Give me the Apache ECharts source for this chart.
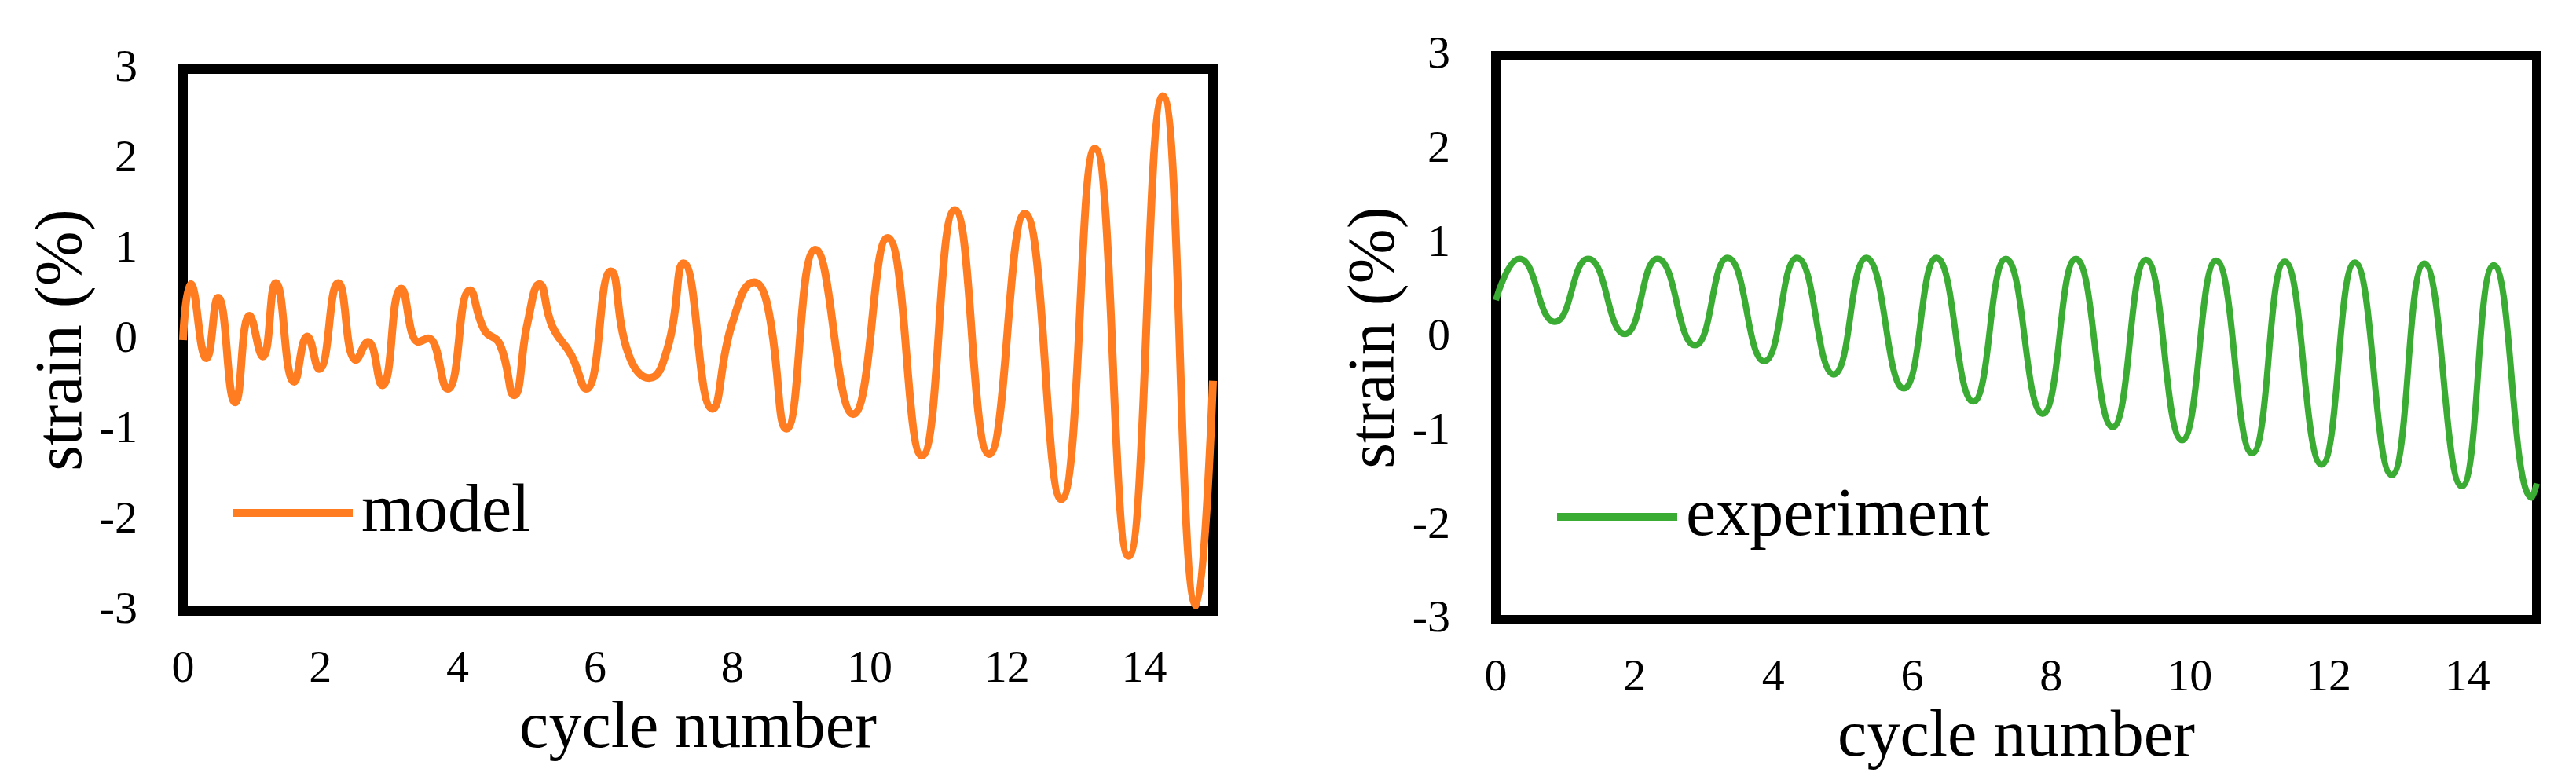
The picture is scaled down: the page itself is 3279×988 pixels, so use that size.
<!DOCTYPE html>
<html>
<head>
<meta charset="utf-8">
<script src="https://cdn.jsdelivr.net/npm/echarts@6/dist/echarts.min.js"></script>
<style>
html,body{margin:0;padding:0;background:#fff;}
#c{width:3279px;height:988px;}
</style>
</head>
<body>
<div id="c"></div>
<script>
// ---- data ----
const modelX = [0, 0.11, 0.34, 0.51, 0.76, 0.97, 1.16, 1.35, 1.62, 1.81, 1.98, 2.26, 2.52, 2.69, 2.90, 3.18, 3.43, 3.57, 3.85, 4.18, 4.39, 4.61, 4.82, 5.02, 5.19, 5.38, 5.65, 5.87, 6.23, 6.49, 6.79, 7.06, 7.29, 7.71, 8.00, 8.32, 8.51, 8.79, 9.21, 9.76, 10.26, 10.76, 11.24, 11.74, 12.26, 12.79, 13.28, 13.77, 14.27, 14.76, 15.0];
const modelY = [0.0, 0.62, -0.20, 0.47, -0.69, 0.27, -0.18, 0.63, -0.46, 0.04, -0.32, 0.63, -0.22, -0.02, -0.50, 0.57, -0.02, 0.02, -0.54, 0.55, 0.11, -0.04, -0.61, 0.20, 0.62, 0.15, -0.16, -0.54, 0.76, -0.16, -0.42, -0.08, 0.85, -0.76, 0.19, 0.64, 0.39, -0.98, 1.00, -0.82, 1.13, -1.28, 1.44, -1.26, 1.40, -1.76, 2.12, -2.39, 2.70, -2.94, -0.45];

const expX = [0, 0.34, 0.85, 1.33, 1.86, 2.33, 2.87, 3.34, 3.87, 4.34, 4.87, 5.34, 5.88, 6.35, 6.88, 7.35, 7.88, 8.36, 8.89, 9.37, 9.89, 10.38, 10.90, 11.37, 11.90, 12.38, 12.91, 13.38, 13.92, 14.38, 14.93, 15.0];
const expY = [0.40, 0.84, 0.17, 0.84, 0.04, 0.84, -0.08, 0.85, -0.25, 0.85, -0.39, 0.85, -0.54, 0.85, -0.68, 0.84, -0.81, 0.84, -0.95, 0.83, -1.09, 0.82, -1.23, 0.81, -1.35, 0.80, -1.46, 0.79, -1.58, 0.77, -1.70, -1.55];

const seriesNames = ['model', 'experiment'];
const xAxisName = 'cycle number';
const yAxisName = 'strain (%)';
const xMin = 0, xMax = 15, xStep = 2;
const yMin = -3, yMax = 3, yStep = 1;

// ---- chart ----
const FONT = '"Liberation Serif", "Times New Roman", serif';
const colors = ['#ff7d20', '#3aac33'];

function xAxisCfg(gridIndex, nameGap) {
  return {
    gridIndex: gridIndex, type: 'value', min: xMin, max: xMax, interval: xStep,
    axisLine: {show: false}, axisTick: {show: false}, splitLine: {show: false},
    axisLabel: {
      color: '#000', fontFamily: FONT, fontSize: 58, margin: 46,
      formatter: function (v) { return v > xMax - xStep / 2 ? '' : String(v); }
    },
    name: xAxisName, nameLocation: 'middle', nameGap: nameGap,
    nameTextStyle: {color: '#000', fontFamily: FONT, fontSize: 84}
  };
}
function yAxisCfg(gridIndex) {
  return {
    gridIndex: gridIndex, type: 'value', min: yMin, max: yMax, interval: yStep,
    axisLine: {show: false}, axisTick: {show: false}, splitLine: {show: false},
    axisLabel: {color: '#000', fontFamily: FONT, fontSize: 58, margin: 58},
    name: yAxisName, nameLocation: 'middle', nameGap: 110,
    nameTextStyle: {color: '#000', fontFamily: FONT, fontSize: 84}
  };
}
function legendCfg(name, left, top) {
  return {
    data: [name], left: left, top: top, padding: 0, icon: 'rect',
    itemWidth: 153, itemHeight: 10, selectedMode: false,
    textStyle: {color: '#000', fontFamily: FONT, fontSize: 86, padding: [0, 0, 0, 6]}
  };
}

const chart = echarts.init(document.getElementById('c'), null, {renderer: 'canvas'});
chart.setOption({
  animation: false,
  backgroundColor: '#fff',
  grid: [
    {left: 233, top: 88, width: 1311, height: 690, show: true, borderWidth: 12, borderColor: '#000', backgroundColor: '#fff'},
    {left: 1904, top: 71, width: 1325, height: 718, show: true, borderWidth: 12, borderColor: '#000', backgroundColor: '#fff'}
  ],
  xAxis: [xAxisCfg(0, 79), xAxisCfg(1, 68)],
  yAxis: [yAxisCfg(0), yAxisCfg(1)],
  legend: [legendCfg(seriesNames[0], 296, 610), legendCfg(seriesNames[1], 1982, 615)],
  series: [
    {
      name: seriesNames[0], type: 'line', xAxisIndex: 0, yAxisIndex: 0,
      data: modelX.map(function (x, i) { return [x, modelY[i]]; }),
      smooth: 0.5, symbol: 'none', color: colors[0],
      lineStyle: {width: 10, color: colors[0]}
    },
    {
      name: seriesNames[1], type: 'line', xAxisIndex: 1, yAxisIndex: 1,
      data: expX.map(function (x, i) { return [x, expY[i]]; }),
      smooth: 0.5, symbol: 'none', color: colors[1],
      lineStyle: {width: 8, color: colors[1]}
    }
  ]
});
</script>
</body>
</html>
